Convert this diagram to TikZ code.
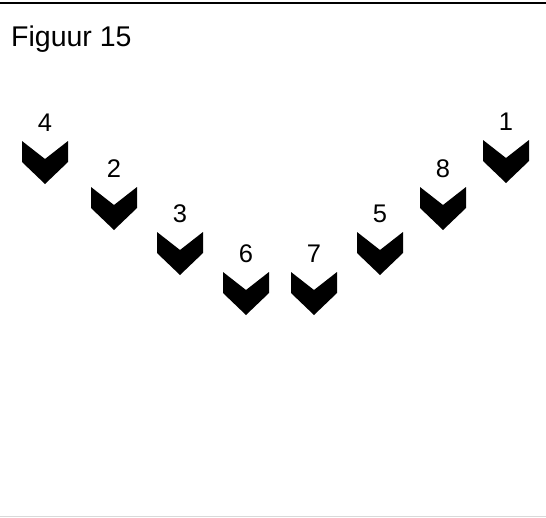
\documentclass[tikz,border=0pt]{standalone}
\usepackage{fontspec}
\setmainfont{Liberation Sans}

\begin{document}
\begin{tikzpicture}
[
	x=1pt,
	y=-1pt,
	digit/.style={anchor=base,inner sep=0pt,font=\fontsize{25.5}{30}\selectfont},
	chevron/.style={fill=black}
]

	% frame
	\useasboundingbox (0,0) rectangle (546,517);
	\fill[white] (0,0) rectangle (546,517);
	\draw[line width=2.5pt] (0,3) -- (546,3);
	\draw[black!15,line width=1pt] (0,516) -- (546,516);

	% title
	\node[anchor=base west,inner sep=0pt,font=\fontsize{28.5}{34}\selectfont] (title) at (11,46) {Figuur 15};

	% chevrons with their numbers
	\foreach \cx/\ty/\n in {45/141/4, 114/187/2, 180/232/3, 246/272/6, 314/272/7, 380/232/5, 443/187/8, 506/140/1}
	{
		\node[digit] (num\n) at (\cx,\ty-10) {\n};
		\fill[chevron] (\cx-23,\ty) -- ++(23,18) -- ++(23,-18) -- ++(0,21) -- ++(-23,22) -- ++(-23,-22) -- cycle;
	}

\end{tikzpicture}
\end{document}
